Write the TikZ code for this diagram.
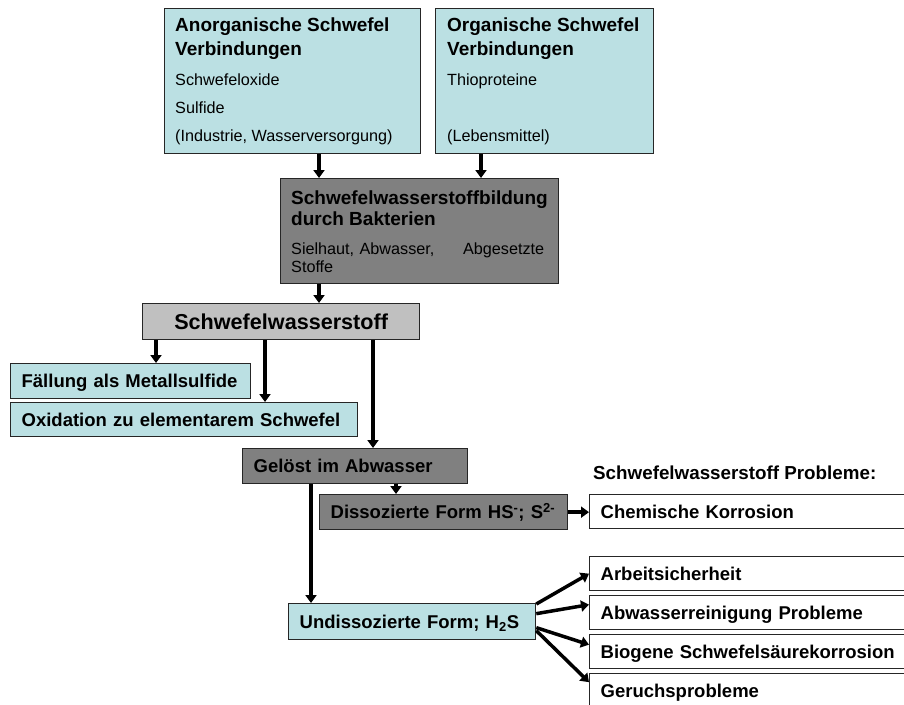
\documentclass[tikz,border=0pt]{standalone}
\usepackage{fontspec}
\setmainfont{Liberation Sans}
\usetikzlibrary{arrows.meta}
\definecolor{paleblue}{HTML}{BBE0E3}
\definecolor{darkfill}{HTML}{808080}
\definecolor{lightfill}{HTML}{C0C0C0}

\begin{document}
\begin{tikzpicture}[
  x=1pt, y=-1pt,
  box/.style={draw=black!85, line width=1.3pt, anchor=north west, inner xsep=11pt, inner ysep=0pt, align=left, text height=17pt, text depth=4pt, font=\fontsize{18.5}{22}\selectfont\bfseries},
  bluebox/.style={box, fill=paleblue},
  darkbox/.style={box, fill=darkfill},
  greybox/.style={box, fill=lightfill},
  whitebox/.style={box, fill=white},
  head/.style={anchor=north west, inner sep=0pt, align=left, font=\fontsize{19}{23.3}\selectfont\bfseries},
  body/.style={anchor=north west, inner sep=0pt, align=left, font=\fontsize{16.2}{28}\selectfont},
  arrow/.style={-{Triangle[length=8pt,width=11pt]}, line width=3.5pt}
]
\clip (0,0) rectangle (904,704);

% sources
\node[bluebox, minimum width=256pt, minimum height=145pt] (anorg) at (164,8) {};
\node[head] (anorgtitle) at (175,18) {Anorganische Schwefel\\Verbindungen};
\node[body] (anorgtext) at (175,74) {Schwefeloxide\\Sulfide\\(Industrie, Wasserversorgung)};
\node[bluebox, minimum width=218pt, minimum height=145pt] (org) at (435,8) {};
\node[head] (orgtitle) at (447,18) {Organische Schwefel\\Verbindungen};
\node[body] (orgtext) at (447,74) {Thioproteine\\[28pt](Lebensmittel)};

% formation
\node[darkbox, minimum width=278pt, minimum height=105pt] (bakt) at (280,178) {};
\node[head, font=\fontsize{19}{20.7}\selectfont\bfseries] (bakttitle) at (291,191) {Schwefelwasserstoffbildung\\durch Bakterien};
\node[body, text width=253pt, font=\fontsize{16.2}{18}\selectfont] (bakttext) at (291,243) {Sielhaut, Abwasser,\hfill Abgesetzte\\Stoffe};

\node[greybox, text width=255pt, align=center, minimum height=36pt, text height=19.5pt, font=\fontsize{21.6}{26}\selectfont\bfseries] (h2s) at (142,303) {Schwefelwasserstoff};

% sinks
\node[bluebox, text width=218pt, minimum height=35pt] (fall) at (10,363) {Fällung als Metallsulfide};
\node[bluebox, text width=325pt, minimum height=34pt] (oxid) at (10,402) {Oxidation zu elementarem Schwefel};
\node[darkbox, text width=203pt, minimum height=35pt] (geloest) at (242,448) {Gelöst im Abwasser};
\node[darkbox, text width=226pt, minimum height=35pt] (diss) at (319,494) {Dissozierte Form HS\textsuperscript{-}; S\textsuperscript{2-}};
\node[bluebox, text width=225pt, minimum height=36pt] (undiss) at (288,603) {Undissozierte Form; H\textsubscript{2}S};

% problems
\node[anchor=base west, inner sep=0pt, font=\fontsize{18.8}{22}\selectfont\bfseries] (probhead) at (593,479) {Schwefelwasserstoff Probleme:};
\node[whitebox, text width=308pt, minimum height=34pt] (chem) at (589,494) {Chemische Korrosion};
\node[whitebox, text width=308pt, minimum height=34pt] (arb) at (589,556) {Arbeitsicherheit};
\node[whitebox, text width=308pt, minimum height=34pt] (abw) at (589,595) {Abwasserreinigung Probleme};
\node[whitebox, text width=308pt, minimum height=34pt] (bio) at (589,634) {Biogene Schwefelsäurekorrosion};
\node[whitebox, text width=308pt, minimum height=35pt] (ger) at (589,673) {Geruchsprobleme};

\draw[arrow] ([xshift=39pt]bakt.north west |- anorg.south) -- ([xshift=39pt]bakt.north west);
\draw[arrow] ([xshift=201pt]bakt.north west |- org.south) -- ([xshift=201pt]bakt.north west);
\draw[arrow] ([xshift=39pt]bakt.south west) -- ([xshift=39pt]bakt.south west |- h2s.north);
\draw[arrow] ([xshift=14pt]h2s.south west) -- ([xshift=14pt]h2s.south west |- fall.north);
\draw[arrow] ([xshift=123pt]h2s.south west) -- ([xshift=123pt]h2s.south west |- oxid.north);
\draw[arrow] ([xshift=231pt]h2s.south west) -- ([xshift=231pt]h2s.south west |- geloest.north);
\draw[arrow] ([xshift=154pt]geloest.south west) -- ([xshift=154pt]geloest.south west |- diss.north);
\draw[arrow] ([xshift=69pt]geloest.south west) -- ([xshift=69pt]geloest.south west |- undiss.north);
\draw[arrow] (diss.east) -- (diss.east -| chem.west);
\draw[arrow] ([yshift=-1pt]undiss.north east) -- (arb.west);
\draw[arrow] ([yshift=8pt]undiss.east) -- ([yshift=8pt]abw.west);
\draw[arrow] ([yshift=-6pt]undiss.east) -- ([yshift=7pt]bio.west);
\draw[arrow] ([yshift=-9pt]undiss.east) -- ([yshift=9pt]ger.west);
\end{tikzpicture}
\end{document}
